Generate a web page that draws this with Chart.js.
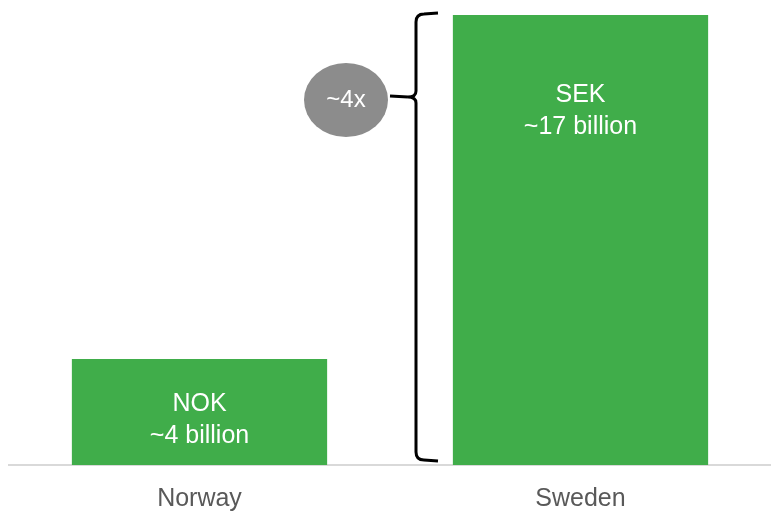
<!DOCTYPE html>
<html>
<head>
<meta charset="utf-8">
<script src="https://cdn.jsdelivr.net/npm/chart.js@4/dist/chart.umd.min.js"></script>
<style>
  html, body { margin: 0; padding: 0; background: #ffffff; }
  #wrap { width: 771px; height: 512px; position: relative; }
</style>
</head>
<body>
<div id="wrap"><canvas id="c"></canvas></div>
<script>
// Annual amounts, billions in local currency
const countries = ['Norway', 'Sweden'];
const currencies = ['NOK', 'SEK'];
const amounts = [4, 17];
const ratioLabel = '~4x';

const GREEN = '#40ad4a';
const FONT = '"Liberation Sans", Arial, sans-serif';

// Two-line white labels inside each bar: currency and approximate amount
const barText = {
  id: 'barText',
  afterDatasetsDraw(chart) {
    const ctx = chart.ctx;
    const meta = chart.getDatasetMeta(0);
    const gaps = [45, 80];
    ctx.save();
    ctx.fillStyle = '#ffffff';
    ctx.font = '25px ' + FONT;
    ctx.textAlign = 'center';
    ctx.textBaseline = 'middle';
    meta.data.forEach((bar, i) => {
      const y0 = bar.y + gaps[i];
      ctx.fillText(currencies[i], bar.x, y0);
      ctx.fillText('~' + amounts[i] + ' billion', bar.x, y0 + 32);
    });
    ctx.restore();
  }
};

// Curly brace spanning the taller bar, with a grey ratio bubble at its tip
const braceNote = {
  id: 'braceNote',
  afterDraw(chart) {
    const ctx = chart.ctx;
    const y = chart.scales.y;
    const top = y.getPixelForValue(amounts[1]) - 2;
    const bottom = y.getPixelForValue(0) - 5;
    const bx = 416;
    const tipY = top + 84;
    const r = 8;
    ctx.save();
    ctx.strokeStyle = '#000000';
    ctx.lineWidth = 3;
    ctx.lineCap = 'butt';
    ctx.beginPath();
    ctx.moveTo(bx + 22, top);
    ctx.lineTo(bx + r, top + 1);
    ctx.quadraticCurveTo(bx, top + 1, bx, top + r + 1);
    ctx.lineTo(bx, tipY - 6);
    ctx.quadraticCurveTo(bx, tipY, bx - 8, tipY);
    ctx.quadraticCurveTo(bx, tipY, bx, tipY + 6);
    ctx.lineTo(bx, bottom - r);
    ctx.quadraticCurveTo(bx, bottom, bx + r, bottom);
    ctx.lineTo(bx + 22, bottom + 1);
    ctx.stroke();
    ctx.beginPath();
    ctx.moveTo(bx - 8, tipY);
    ctx.lineTo(bx - 26, tipY - 1);
    ctx.stroke();

    ctx.fillStyle = '#8c8c8c';
    ctx.beginPath();
    ctx.ellipse(bx - 70, tipY + 3, 42, 37, 0, 0, Math.PI * 2);
    ctx.fill();
    ctx.fillStyle = '#ffffff';
    ctx.font = '24px ' + FONT;
    ctx.textAlign = 'center';
    ctx.textBaseline = 'middle';
    ctx.fillText(ratioLabel, bx - 70, tipY + 3);
    ctx.restore();
  }
};

new Chart(document.getElementById('c'), {
  type: 'bar',
  data: {
    labels: countries,
    datasets: [{
      data: amounts,
      backgroundColor: GREEN,
      borderWidth: 0,
      barPercentage: 0.67,
      categoryPercentage: 1
    }]
  },
  options: {
    responsive: true,
    maintainAspectRatio: false,
    animation: false,
    devicePixelRatio: 1,
    layout: { padding: { left: 9, right: 0, top: 15, bottom: 0 } },
    plugins: { legend: { display: false }, tooltip: { enabled: false } },
    scales: {
      x: {
        grid: { display: false, drawTicks: false },
        border: { display: true, color: '#d9d9d9', width: 2 },
        ticks: { color: '#595959', font: { family: FONT, size: 25 }, padding: 19 },
        afterFit(scale) { scale.height = 47; }
      },
      y: {
        display: false,
        min: 0,
        max: 17,
        grid: { display: false }
      }
    }
  },
  plugins: [barText, braceNote]
});
</script>
</body>
</html>
